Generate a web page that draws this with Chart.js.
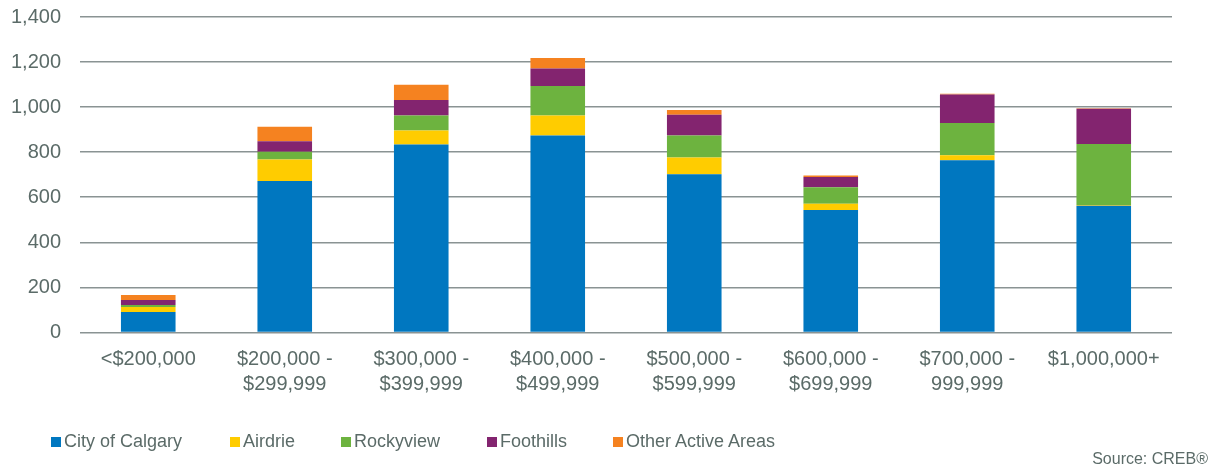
<!DOCTYPE html>
<html>
<head>
<meta charset="utf-8">
<script src="https://cdn.jsdelivr.net/npm/chart.js@4/dist/chart.umd.min.js"></script>
<style>
  html, body { margin: 0; padding: 0; background: #fff; overflow: hidden; }
  #wrap { position: relative; width: 1221px; height: 469px; overflow: hidden; font-family: "Liberation Sans", Arial, sans-serif; color: #5b6b68; }
  #chart { position: absolute; left: 0; top: -14px; }
  .lg { position: absolute; top: 429px; font-size: 18px; line-height: 24px; white-space: nowrap; }
  .lg span { display: inline-block; width: 10px; height: 10px; margin-right: 3px; vertical-align: 0px; }
  #source { position: absolute; right: 13px; top: 449px; font-size: 16px; line-height: 20px; }
</style>
</head>
<body>
<div id="wrap">
  <canvas id="chart" width="1221" height="483"></canvas>
  <div id="legend"></div>
  <div id="source">Source: CREB®</div>
</div>
<script>
var categories = ['<$200,000', ['$200,000 -', '$299,999'], ['$300,000 -', '$399,999'], ['$400,000 -', '$499,999'],
    ['$500,000 -', '$599,999'], ['$600,000 -', '$699,999'], ['$700,000 -', '999,999'], '$1,000,000+'];

var calgary   = [91, 672, 834, 874, 702, 543, 764, 562];
var airdrie   = [22, 95, 62, 89, 74, 28, 22, 3];
var rockyview = [9, 35, 67, 131, 98, 73, 143, 271];
var foothills = [22, 46, 69, 77, 92, 46, 127, 157];
var other     = [22, 65, 67, 47, 21, 6, 3, 2];

var seriesNames = ['City of Calgary', 'Airdrie', 'Rockyview', 'Foothills', 'Other Active Areas'];
var seriesData = [calgary, airdrie, rockyview, foothills, other];
var colors = ['#0077c0', '#ffcc00', '#6db33f', '#83246f', '#f58220'];
var legendX = [51, 230, 341, 487, 613];

var textColor = '#5b6b68';
var font = "'Liberation Sans', Arial, sans-serif";

var datasets = [];
for (var i = 0; i < seriesNames.length; i++) {
    datasets.push({
        label: seriesNames[i],
        data: seriesData[i],
        backgroundColor: colors[i],
        barPercentage: 0.4,
        categoryPercentage: 1.0
    });
}

// legend drawn as html so the items can sit where the original has them
var legendHtml = '';
for (var i = 0; i < seriesNames.length; i++) {
    legendHtml += '<div class="lg" style="left:' + legendX[i] + 'px"><span style="background:' + colors[i] + '"></span>' + seriesNames[i] + '</div>';
}
document.getElementById('legend').innerHTML = legendHtml;

new Chart(document.getElementById('chart'), {
    type: 'bar',
    data: { labels: categories, datasets: datasets },
    options: {
        responsive: false,
        animation: false,
        layout: { padding: { top: 0, right: 49, bottom: 57, left: 0 } },
        plugins: { legend: { display: false }, tooltip: { enabled: false } },
        scales: {
            x: {
                stacked: true,
                grid: { display: false, drawTicks: false },
                border: { display: false },
                ticks: { color: textColor, font: { family: font, size: 20, lineHeight: 1.24 }, padding: 15, maxRotation: 0, autoSkip: false }
            },
            y: {
                stacked: true,
                min: 0,
                max: 1400,
                afterFit: function(s) { s.width = 80; },
                grid: { color: '#8a9393', lineWidth: 1.5, drawTicks: false },
                border: { display: false },
                ticks: { stepSize: 200, color: textColor, font: { family: font, size: 20 }, padding: 19 }
            }
        }
    }
});
</script>
</body>
</html>
